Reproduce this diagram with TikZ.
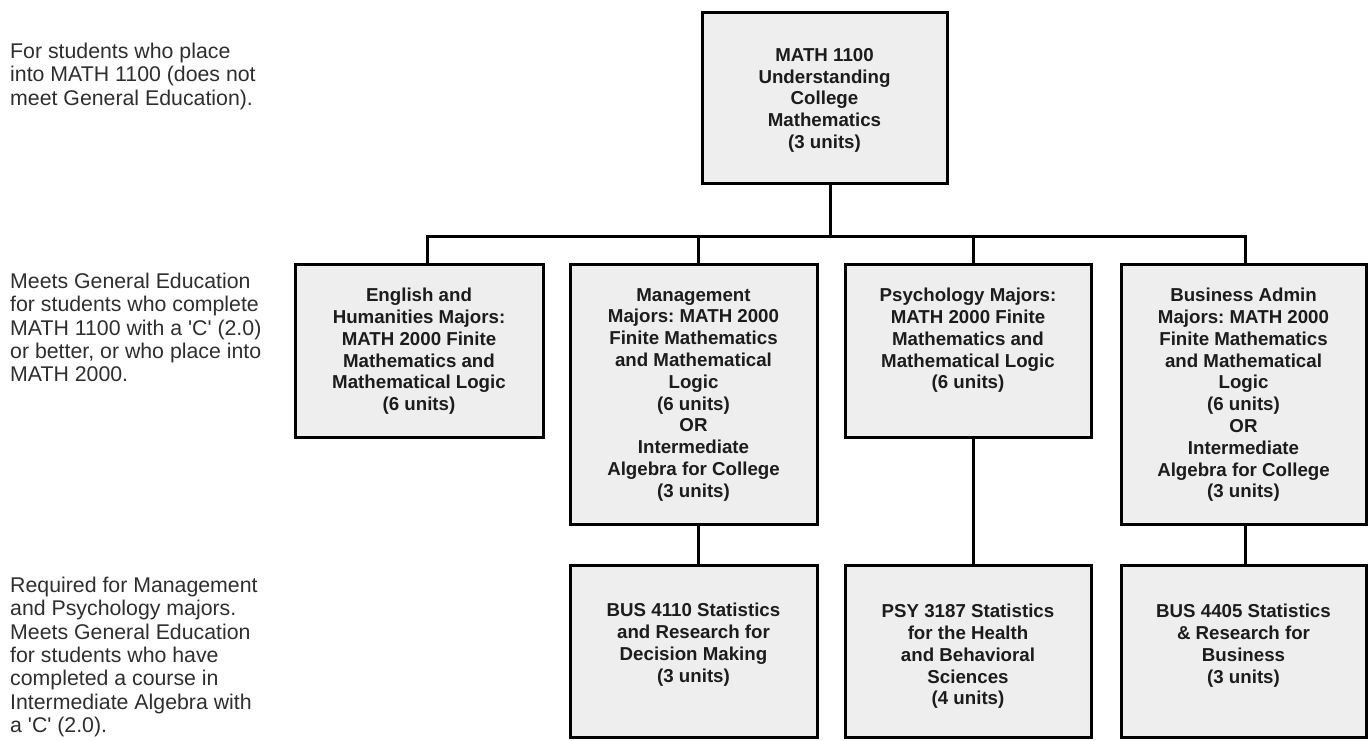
\documentclass[tikz,border=0pt]{standalone}
\usepackage{fontspec}
\setmainfont{Liberation Sans}
\definecolor{boxfill}{HTML}{EEEEEE}
\definecolor{inktxt}{HTML}{1C1C1C}
\definecolor{sidetxt}{HTML}{2E2E2E}
\frenchspacing
\begin{document}
\begin{tikzpicture}[x=1pt,y=-1pt,
  box/.style={draw=black, line width=3pt, fill=boxfill, inner sep=0pt, outer sep=0pt, anchor=north west},
  boxtxt/.style={inner sep=0pt, anchor=north, align=center, text=inktxt, font=\fontsize{18.7}{21.8}\selectfont\bfseries},
  sidenote/.style={inner sep=0pt, anchor=north west, align=left, text=sidetxt, font=\fontsize{21.3}{23.3}\selectfont},
  conn/.style={draw=black, line width=3pt}]
\useasboundingbox (0,0) rectangle (1368,740);

% boxes
\node[box, minimum width=245pt, minimum height=171pt] (top) at (702,12) {};
\node[box, minimum width=248pt, minimum height=173pt] (b1) at (295,264) {};
\node[box, minimum width=247pt, minimum height=260pt] (b2) at (570,264) {};
\node[box, minimum width=246pt, minimum height=173pt] (b3) at (845,264) {};
\node[box, minimum width=245pt, minimum height=260pt] (b4) at (1121,264) {};
\node[box, minimum width=247pt, minimum height=172pt] (c2) at (570,565) {};
\node[box, minimum width=246pt, minimum height=172pt] (c3) at (845,565) {};
\node[box, minimum width=245pt, minimum height=172pt] (c4) at (1121,565) {};

% box texts
\node[boxtxt] (ttop) at ([yshift=-36pt]top.north) {MATH 1100\\Understanding\\College\\Mathematics\\(3 units)};
\node[boxtxt] (tb1) at ([yshift=-24pt]b1.north) {English and\\Humanities Majors:\\MATH 2000 Finite\\Mathematics and\\Mathematical Logic\\(6 units)};
\node[boxtxt] (tb2) at ([yshift=-24pt]b2.north) {Management\\Majors: MATH 2000\\Finite Mathematics\\and Mathematical\\Logic\\(6 units)\\OR\\Intermediate\\Algebra for College\\(3 units)};
\node[boxtxt] (tb3) at ([yshift=-24pt]b3.north) {Psychology Majors:\\MATH 2000 Finite\\Mathematics and\\Mathematical Logic\\(6 units)};
\node[boxtxt] (tb4) at ([yshift=-24pt]b4.north) {Business Admin\\Majors: MATH 2000\\Finite Mathematics\\and Mathematical\\Logic\\(6 units)\\OR\\Intermediate\\Algebra for College\\(3 units)};
\node[boxtxt] (tc2) at ([yshift=-38pt]c2.north) {BUS 4110 Statistics\\and Research for\\Decision Making\\(3 units)};
\node[boxtxt] (tc3) at ([yshift=-39pt]c3.north) {PSY 3187 Statistics\\for the Health\\and Behavioral\\Sciences\\(4 units)};
\node[boxtxt] (tc4) at ([yshift=-39pt]c4.north) {BUS 4405 Statistics\\\& Research for\\Business\\(3 units)};

% side notes
\node[sidenote] (n1) at (10,43) {For students who place\\into MATH 1100 (does not\\meet General Education).};
\node[sidenote] (n2) at (10,273) {Meets General Education\\for students who complete\\MATH 1100 with a \textquotesingle C\textquotesingle\ (2.0)\\or better, or who place into\\MATH 2000.};
\node[sidenote] (n3) at (10,577) {Required for Management\\and Psychology majors.\\Meets General Education\\for students who have\\completed a course in\\Intermediate Algebra with\\a \textquotesingle C\textquotesingle\ (2.0).};

% connector coordinates
\coordinate (xt) at (830,236);
\coordinate (x1) at (427,236);
\coordinate (x2) at (698,236);
\coordinate (x3) at (973,236);
\coordinate (x4) at (1245,236);

\draw[conn] (xt |- top.south) -- (xt);
\draw[conn, line cap=rect] (x1) -- (x4);
\draw[conn] (x1) -- (x1 |- b1.north);
\draw[conn] (x2) -- (x2 |- b2.north);
\draw[conn] (x3) -- (x3 |- b3.north);
\draw[conn] (x4) -- (x4 |- b4.north);
\draw[conn] (x2 |- b2.south) -- (x2 |- c2.north);
\draw[conn] (x3 |- b3.south) -- (x3 |- c3.north);
\draw[conn] (x4 |- b4.south) -- (x4 |- c4.north);
\end{tikzpicture}
\end{document}
